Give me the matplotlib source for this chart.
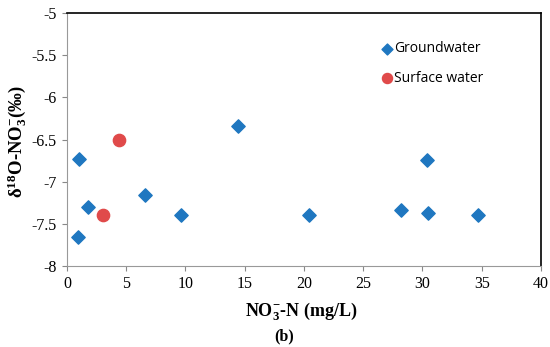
import matplotlib
matplotlib.use("Agg")
import matplotlib.pyplot as plt

plt.rcParams["mathtext.fontset"] = "custom"
plt.rcParams["mathtext.rm"] = "Liberation Serif"
plt.rcParams["mathtext.bf"] = "Liberation Serif:bold"
plt.rcParams["mathtext.it"] = "Liberation Serif:italic"

# groundwater samples
gw_no3 = [1.0, 0.9, 1.8, 6.6, 9.6, 14.4, 20.4, 28.2, 30.4, 30.5, 34.7]
gw_d18o = [-6.73, -7.66, -7.30, -7.16, -7.40, -6.34, -7.39, -7.34, -6.74, -7.37, -7.40]
# surface water samples
sw_no3 = [3.0, 4.4]
sw_d18o = [-7.40, -6.50]

x_ticks = [0, 5, 10, 15, 20, 25, 30, 35, 40]
y_ticks = [-8, -7.5, -7, -6.5, -6, -5.5, -5]

fig = plt.figure(figsize=(5.5, 3.47), dpi=100)
ax = fig.add_axes([0.1218, 0.2334, 0.8618, 0.7291])

ax.scatter(gw_no3, gw_d18o, marker="D", s=46, color="#1f77c0", zorder=3, label="Groundwater")
ax.scatter(sw_no3, sw_d18o, marker="o", s=78, color="#e04a4a", zorder=3, label="Surface water")

ax.set_xlim(0, 40)
ax.set_ylim(-8, -5)
ax.set_xticks(x_ticks)
ax.set_xticklabels([str(t) for t in x_ticks])
ax.set_yticks(y_ticks)
ax.set_yticklabels([f"{t:g}" for t in y_ticks])
ax.tick_params(direction="out", length=3.5, width=0.8, color="#888888", pad=4,
               labelsize=11.5, labelfontfamily="Liberation Serif")

for side in ["left", "bottom"]:
    ax.spines[side].set_color("#999999")
for side in ["top", "right"]:
    ax.spines[side].set_color("black")
    ax.spines[side].set_linewidth(1.2)

ax.set_ylabel(r"$\mathbf{\delta^{18}O}$-$\mathbf{NO_3^{-}}$(‰)", fontsize=13.5,
              fontfamily="Liberation Serif", fontweight="bold")
ax.yaxis.set_label_coords(-0.08, 0.49)
ax.set_xlabel(r"$\mathbf{NO_3^{-}}$-N (mg/L)", fontsize=13,
              fontfamily="Liberation Serif", fontweight="bold")
ax.xaxis.set_label_coords(0.495, -0.135)

leg = ax.legend(loc="upper left", bbox_to_anchor=(0.648, 0.91), frameon=False,
                handletextpad=0.05, labelspacing=1.05, handlelength=1.0,
                markerscale=0.82, borderaxespad=0,
                prop={"family": "Open Sans", "size": 10})

fig.text(0.517, 0.032, "(b)", ha="center", va="center", fontsize=11.5,
         fontfamily="Liberation Serif", fontweight="bold")

fig.savefig("out.png", dpi=100)
